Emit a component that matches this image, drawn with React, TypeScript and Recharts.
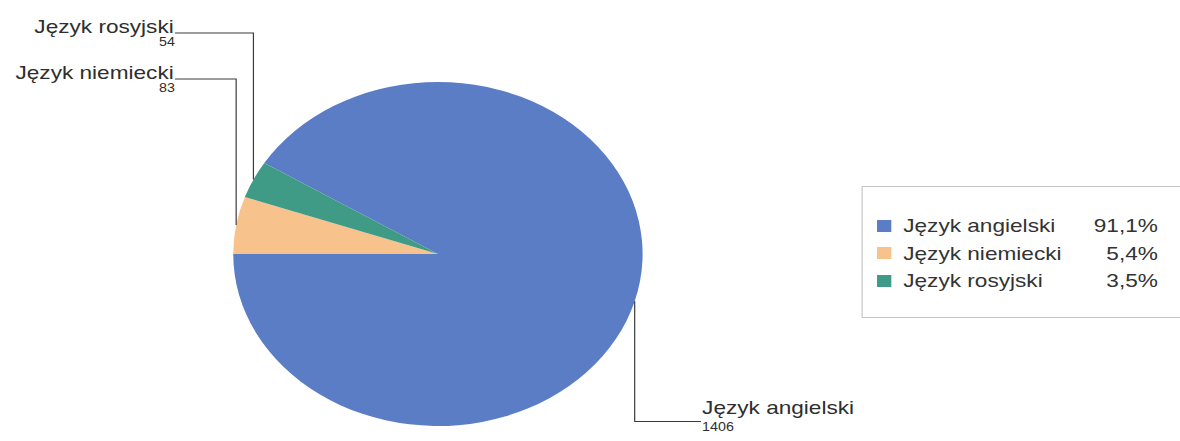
import React from 'react';
import { PieChart, Pie, Cell, Legend } from 'recharts';

const categories = ['Język angielski', 'Język niemiecki', 'Język rosyjski'];
const counts = [1406, 83, 54];
const colors = ['#5b7dc6', '#f7c28c', '#3f9b85'];

const total = counts.reduce((a, b) => a + b, 0);
const data = categories.map((name, i) => ({ name, value: counts[i] }));

// the scan is stretched sideways, so the chart is drawn narrow and stretched as a whole
const SX = 1.19;
const W = 1180 / SX;
const H = 441;
const FONT = '"Liberation Sans", Arial, sans-serif';

// first slice ends on the 9 o'clock line, going clockwise
const startAngle = 180 + (360 * counts[0]) / total - 360;
const endAngle = startAngle - 360;

// where each callout goes (line height, text x, which side)
const labelPlace = [
  { y: 421.5, x: 589, side: 'right' },
  { y: 79, x: 147, side: 'left' },
  { y: 33, x: 147, side: 'left' },
];
const RAD = Math.PI / 180;

const renderLabel = (props: any) => {
  const { cx, cy, outerRadius, midAngle, index } = props;
  const p = labelPlace[index];
  const ex = cx + outerRadius * Math.cos(-midAngle * RAD);
  const ey = cy + outerRadius * Math.sin(-midAngle * RAD);
  const left = p.side === 'left';
  return (
    <g key={`lbl-${index}`}>
      <polyline
        points={`${ex},${ey} ${ex},${p.y} ${p.x},${p.y}`}
        fill="none"
        stroke="#3a3a3a"
        strokeWidth={1}
      />
      <text
        x={left ? p.x - 1 : p.x + 1}
        y={left ? p.y : p.y - 7.5}
        textAnchor={left ? 'end' : 'start'}
        fontFamily={FONT}
        fontSize={19}
        fill="#2e2e2e"
      >
        {categories[index]}
      </text>
      <text
        x={left ? p.x : p.x + 1}
        y={left ? p.y + 13.5 : p.y + 10}
        textAnchor={left ? 'end' : 'start'}
        fontFamily={FONT}
        fontSize={12}
        fill="#2e2e2e"
      >
        {counts[index]}
      </text>
    </g>
  );
};

const pct = (v: number) => ((v / total) * 100).toFixed(1).replace('.', ',') + '%';

const BOX_W = 310;

const LegendBox = () => (
  <div
    style={{
      position: 'relative',
      width: BOX_W,
      height: 132,
      boxSizing: 'border-box',
      border: '1px solid #c6c6c6',
      background: '#fff',
      fontFamily: FONT,
      fontSize: 19,
      color: '#333',
    }}
  >
    {categories.map((c, i) => (
      <div
        key={c}
        style={{ position: 'absolute', left: 0, top: 25 + i * 27.5, width: '100%', height: 27.5, lineHeight: '27.5px' }}
      >
        <span
          style={{ position: 'absolute', left: 12, top: 7.5, width: 12, height: 12, background: colors[i] }}
        />
        <span style={{ position: 'absolute', left: 34.5, top: 0 }}>{c}</span>
        <span style={{ position: 'absolute', right: BOX_W - 250.5, top: 0 }}>{pct(counts[i])}</span>
      </div>
    ))}
  </div>
);

export default function App() {
  return (
    <div
      style={{ position: 'absolute', left: 0, top: 0, width: 1180, height: 441, overflow: 'hidden', background: '#fff' }}
    >
      <div style={{ width: W, height: H, transform: `scaleX(${SX})`, transformOrigin: '0 0' }}>
        <PieChart width={W} height={H} margin={{ top: 0, right: 0, bottom: 0, left: 0 }}>
          <Pie
            data={data}
            dataKey="value"
            nameKey="name"
            cx={368}
            cy={254}
            outerRadius={172}
            startAngle={startAngle}
            endAngle={endAngle}
            stroke="none"
            label={renderLabel}
            labelLine={false}
            isAnimationActive={false}
          >
            {data.map((d, i) => (
              <Cell key={d.name} fill={colors[i]} />
            ))}
          </Pie>
          <Legend
            layout="vertical"
            align="right"
            verticalAlign="middle"
            content={() => <LegendBox />}
            wrapperStyle={{ left: 723.5, top: 186, right: 'auto', width: BOX_W, height: 132 }}
          />
        </PieChart>
      </div>
    </div>
  );
}
